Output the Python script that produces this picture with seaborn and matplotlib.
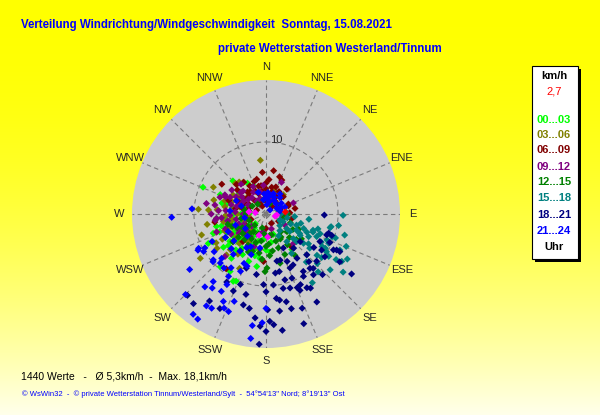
import numpy as np
import pandas as pd
import matplotlib
matplotlib.use('Agg')
import matplotlib.pyplot as plt
import seaborn as sns
from matplotlib.patches import Rectangle

# wind readings per 3-hour block: (direction in degrees, speed in km/h)
pts_00_03 = [(315, 6.5), (329, 5.0), (293, 9.5), (293, 6.9), (284, 6.3), (249, 6.9), (221, 9.7),
             (204, 10.2), (190, 7.4), (144, 6.1), (174, 5.3), (336, 4.3), (308, 4.7), (256, 7.1),
             (242, 8.3), (243, 9.0), (250, 7.8), (206, 10.4), (212, 9.4), (265, 6.9),
             (260, 4.5), (250, 3.8), (240, 4.2), (235, 5.5), (230, 3.0), (225, 4.8), (215, 5.8),
             (210, 3.5), (200, 4.4), (195, 6.0), (220, 6.5), (270, 3.5), (280, 4.8), (265, 5.8),
             (255, 5.2), (245, 6.0), (238, 2.5), (228, 2.0), (205, 2.8), (185, 3.5), (170, 4.0),
             (160, 3.0), (290, 3.2), (300, 4.0), (275, 2.2), (262, 2.9), (248, 5.0), (233, 6.3),
             (212, 4.6), (198, 5.2), (245, 3.2), (235, 4.0), (225, 5.5), (215, 4.0), (205, 4.8),
             (220, 2.5), (250, 4.6), (260, 5.4), (240, 5.0), (230, 6.8), (210, 6.5), (195, 3.8),
             (180, 5.0), (270, 4.5), (285, 5.6), (255, 6.4), (232, 7.5), (218, 7.8), (200, 7.0),
             (188, 6.2)]
pts_03_06 = [(354, 7.5), (21, 3.4), (320, 5.8), (324, 5.4), (297, 8.2), (274, 9.4), (274, 8.0),
             (252, 9.4), (236, 11.0), (235, 8.3), (280, 5.8), (300, 5.3), (42, 3.6), (206, 8.4),
             (224, 7.9), (288, 6.0), (270, 4.0), (260, 6.0), (250, 5.5), (245, 4.5), (240, 7.0),
             (230, 6.0), (255, 3.2), (265, 2.5), (285, 3.8), (295, 4.5), (310, 3.5), (228, 4.2),
             (215, 6.8), (205, 5.5), (190, 5.0), (275, 6.8), (250, 7.3), (262, 4.8), (238, 3.6),
             (220, 3.0), (248, 6.2), (258, 5.0), (268, 5.6), (242, 5.6), (232, 5.2), (222, 5.5),
             (212, 4.6), (278, 4.5), (290, 5.0), (305, 4.5), (225, 7.0), (240, 8.0), (260, 8.3),
             (285, 7.5), (315, 6.0)]
pts_06_09 = [(10, 6.1), (101, 3.6), (70, 3.3), (42, 3.2), (54, 2.1), (317, 3.3), (292, 3.9),
             (328, 2.0), (3, 1.7), (38, 1.3), (304, 7.4), (66, 3.4), (71, 2.1), (21, 1.6),
             (331, 1.7), (314, 3.4), (297, 3.3), (261, 7.2), (293, 1.4), (79, 4.1), (45, 3.4),
             (87, 3.3), (294, 4.2), (216, 9.4), (142, 5.8), (183, 6.6),
             (340, 3.0), (350, 4.0), (0, 3.5), (10, 2.5), (20, 4.0), (30, 2.8), (355, 2.2),
             (345, 5.0), (330, 4.5), (320, 2.5), (310, 5.2), (300, 2.8), (285, 3.5), (275, 2.6),
             (290, 5.5), (5, 4.8), (15, 3.2), (325, 3.8), (335, 1.2), (265, 3.0), (250, 2.2),
             (240, 3.2), (230, 4.0), (220, 5.0), (200, 3.0), (180, 2.0), (150, 1.5), (120, 2.0),
             (60, 1.8), (40, 4.5), (25, 5.2), (355, 5.8), (345, 4.0), (335, 3.5), (0, 4.3),
             (12, 3.8), (30, 3.6), (320, 4.0), (305, 3.8), (290, 2.5), (280, 4.3), (350, 3.2),
             (5, 2.8), (340, 4.8), (315, 5.8), (325, 5.4), (20, 5.5), (35, 2.2)]
pts_09_12 = [(26, 4.9), (68, 4.1), (280, 8.4), (274, 6.6), (263, 7.1), (295, 6.3), (250, 7.3),
             (224, 8.2), (305, 4.1), (319, 3.0), (268, 5.0), (138, 5.6), (355, 4.0), (293, 6.1),
             (339, 2.3), (274, 4.3), (297, 2.8), (15, 2.1), (265, 6.9),
             (285, 5.0), (290, 3.8), (300, 4.8), (310, 3.2), (315, 4.5), (325, 2.2), (330, 3.5),
             (270, 3.2), (260, 4.2), (255, 2.8), (245, 3.4), (235, 4.6), (280, 2.4), (305, 5.8),
             (345, 3.2), (0, 2.6), (20, 3.0), (40, 2.0), (265, 6.2), (240, 5.6), (230, 2.6),
             (215, 3.8), (200, 4.8), (190, 2.5), (160, 2.2), (120, 3.0), (100, 2.4), (295, 5.5),
             (285, 4.2), (275, 5.6), (290, 6.8), (300, 3.6), (310, 4.6), (320, 5.4), (260, 5.4),
             (250, 4.0), (280, 7.2), (270, 7.6), (250, 6.0), (240, 4.4), (230, 3.5), (335, 4.2)]
pts_12_15 = [(181, 8.0), (179, 7.5), (164, 7.1), (165, 3.0), (147, 3.8),
             (200, 3.0), (210, 4.0), (220, 3.5), (230, 5.0), (240, 3.8), (250, 2.5), (190, 5.5),
             (180, 4.5), (170, 3.0), (160, 5.0), (150, 4.0), (140, 3.2), (130, 5.5), (120, 4.3),
             (110, 3.6), (100, 2.6), (90, 3.0), (260, 3.5), (270, 2.8), (280, 3.0), (300, 2.2),
             (320, 1.8), (350, 2.0), (20, 1.5), (60, 2.2), (80, 1.8), (205, 5.8), (215, 6.2),
             (225, 2.2), (235, 3.0), (245, 4.4), (195, 2.0), (185, 6.3), (175, 5.8), (155, 6.2),
             (145, 7.0), (135, 4.6), (125, 6.0), (115, 5.0), (240, 6.5), (255, 5.5), (210, 5.0),
             (220, 4.6), (230, 4.2), (200, 4.2), (190, 3.8), (175, 4.2), (160, 4.0), (170, 5.2),
             (200, 5.5), (215, 3.0), (185, 2.8), (230, 6.0), (250, 5.0), (145, 5.2), (130, 3.8)]
pts_15_18 = [(91, 10.7), (101, 9.2), (99, 10.2), (114, 7.7), (111, 7.0), (115, 9.6), (116, 11.4),
             (119, 12.9), (122, 12.4), (123, 11.6), (122, 9.9), (128, 9.8), (134, 9.9), (128, 7.7),
             (128, 6.6), (120, 5.4), (118, 4.8), (112, 3.7), (116, 2.2), (125, 3.5), (132, 5.1),
             (146, 11.5), (147, 6.5), (135, 8.0), (102, 9.1), (109, 9.7), (109, 10.2), (113, 9.2),
             (110, 8.0), (109, 6.9), (114, 6.2), (111, 5.6), (110, 4.5), (126, 4.1), (114, 2.6),
             (113, 2.1), (118, 6.7), (122, 5.6), (120, 9.5), (129, 9.1), (140, 8.7), (132, 5.7),
             (143, 4.8), (120, 9.0), (100, 3.0), (95, 4.0), (105, 5.0), (90, 2.0), (130, 2.5),
             (140, 3.0), (150, 3.5), (125, 7.2), (117, 8.6), (106, 7.5), (97, 6.0), (85, 2.8),
             (105, 11.3), (112, 12.0), (124, 10.5), (138, 10.8), (131, 11.8), (127, 13.4)]
pts_18_21 = [(91, 8.1), (125, 14.5), (123, 12.2), (118, 10.6), (126, 10.1), (123, 9.2), (114, 9.7),
             (117, 8.4), (125, 8.1), (133, 9.6), (141, 9.7), (135, 8.0), (147, 9.5), (154, 10.9),
             (157, 11.1), (158, 9.6), (156, 8.2), (156, 7.2), (167, 8.2), (167, 10.6), (174, 9.9),
             (173, 11.8), (167, 12.5), (165, 13.6), (172, 13.6), (178, 14.9), (180, 16.3),
             (183, 15.6), (186, 14.5), (190, 13.3), (194, 13.0), (194, 11.5), (200, 10.4),
             (203, 11.6), (210, 10.9), (206, 14.6), (213, 14.4), (224, 15.7), (219, 16.0),
             (161, 16.1), (183, 18.1), (151, 11.7), (142, 10.7), (137, 11.5), (149, 12.0),
             (145, 7.5), (141, 6.1), (129, 6.1), (153, 5.3), (167, 6.7), (109, 8.9), (108, 9.6),
             (117, 11.5), (200, 8.0), (189, 8.5), (182, 9.8), (107, 9.1), (117, 11.0), (138, 8.9),
             (139, 10.0), (150, 14.1), (159, 14.0), (172, 16.3), (176, 15.4), (171, 12.1),
             (162, 10.8), (156, 11.6), (149, 10.1), (164, 9.5), (171, 8.3), (152, 8.0), (163, 6.7),
             (180, 10.8), (179, 13.3)]
pts_21_24 = [(268, 13.1), (274, 10.3), (234, 13.1), (225, 15.8), (216, 17.2), (213, 17.4),
             (213, 15.2), (210, 15.1), (218, 11.9), (216, 12.7), (210, 12.4), (206, 13.5),
             (204, 14.3), (209, 11.2), (211, 10.1), (213, 8.9), (218, 9.5), (223, 9.3), (229, 9.7),
             (225, 8.7), (200, 12.9), (201, 14.5), (187, 17.4), (187, 15.6), (182, 15.1),
             (180, 13.1), (204, 7.5), (200, 7.7), (204, 8.7), (219, 7.2), (239, 10.1), (243, 10.5),
             (234, 8.9), (243, 8.4), (242, 10.7), (241, 9.7), (220, 13.2), (228, 9.9),
             (5, 1.3), (45, 0.8), (62, 1.7), (78, 2.0), (288, 3.6), (294, 4.5), (275, 5.0),
             (10, 2.5), (20, 3.0), (350, 2.0), (30, 2.2), (40, 3.0), (55, 2.6), (70, 2.8), (0, 2.2),
             (340, 3.2), (15, 1.8), (210, 5.4), (220, 4.0), (230, 5.8), (240, 6.5), (250, 4.5),
             (200, 6.0), (190, 4.8), (260, 3.0), (235, 3.5), (25, 2.6), (35, 3.4), (5, 3.0),
             (355, 2.8), (45, 2.0), (65, 2.2), (215, 6.3), (225, 6.8), (245, 5.8), (205, 5.0)]
pts_recent = [(277, 2.4), (103, 1.3), (198, 3.1), (95, 1.5), (176, 3.2), (277, 1.5)]
pts_current = [(84, 2.7)]

periods = ['00...03', '03...06', '06...09', '09...12', '12...15', '15...18', '18...21', '21...24']
period_colors = ['#00FF00', '#808000', '#800000', '#800080', '#008000', '#008080', '#000080', '#0000FF']
compass = ['N', 'NNE', 'NE', 'ENE', 'E', 'ESE', 'SE', 'SSE',
           'S', 'SSW', 'SW', 'WSW', 'W', 'WNW', 'NW', 'NNW']

all_groups = [pts_00_03, pts_03_06, pts_06_09, pts_09_12, pts_12_15, pts_15_18, pts_18_21,
              pts_21_24, pts_recent, pts_current]
group_names = periods + ['recent', 'current']
palette = dict(zip(group_names, period_colors + ['#FF00FF', '#FF0000']))

rows = []
for name, pts in zip(group_names, all_groups):
    for d, v in pts:
        rows.append({'theta': np.deg2rad(d), 'speed': v, 'period': name})
df = pd.DataFrame(rows)

sns.set_style('white')
plt.rcParams['font.family'] = ['Liberation Sans', 'DejaVu Sans']

fig = plt.figure(figsize=(6, 4.15), dpi=100)

# yellow gradient background
bg = fig.add_axes([0, 0, 1, 1], zorder=-10)
t = np.linspace(0, 1, 256)[:, None]
grad = np.ones((256, 2, 3))
grad[:, :, 2] = 0.92 * t ** 2
bg.imshow(grad, aspect='auto', extent=[0, 1, 0, 1], origin='upper')
bg.axis('off')

ax = fig.add_axes([0.22, 0.1614, 0.4467, 0.6458], projection='polar')
ax.set_theta_zero_location('N')
ax.set_theta_direction(-1)
ax.set_facecolor('#CDCDCD')

sns.scatterplot(data=df, x='theta', y='speed', hue='period', hue_order=group_names,
                palette=palette, marker='D', s=13, linewidth=0, legend=False, ax=ax, zorder=3)

ax.set_ylim(0, 18.6)
ax.set_xticks(np.deg2rad(np.arange(0, 360, 22.5)))
ax.set_xticklabels([])
ax.set_yticks([10])
ax.set_yticklabels([])
ax.grid(True, color='#7A7A7A', linestyle=(0, (4, 3)), linewidth=0.8)
ax.spines['polar'].set_visible(False)
ax.set_xlabel('')
ax.set_ylabel('')

for i, lab in enumerate(compass):
    ax.text(np.deg2rad(i * 22.5), 20.4, lab, ha='center', va='center', fontsize=8, clip_on=False)
ax.text(np.deg2rad(7.7), 10.4, '10', ha='center', va='center', fontsize=8, zorder=4)

# titles
fig.text(0.035, 0.9398, 'Verteilung Windrichtung/Windgeschwindigkeit  Sonntag, 15.08.2021',
         color='#0000FF', fontsize=8.3, fontweight='bold', ha='left', va='center')
fig.text(0.3633, 0.8819, 'private Wetterstation Westerland/Tinnum',
         color='#0000FF', fontsize=8.3, fontweight='bold', ha='left', va='center')

# footer
fig.text(0.035, 0.0916, '1440 Werte   -   Ø 5,3km/h  -  Max. 18,1km/h',
         color='black', fontsize=7.5, ha='left', va='center')
fig.text(0.0367, 0.0506,
         "© WsWin32  -  © private Wetterstation Tinnum/Westerland/Sylt  -  54°54'13'' Nord; 8°19'13'' Ost",
         color='#0000FF', fontsize=5.5, ha='left', va='center')

# legend box with shadow
W, H = 600, 415
fig.patches.append(Rectangle(((532 + 3) / W, (H - 259 - 3) / H), 46 / W, 193 / H,
                             transform=fig.transFigure, facecolor='black', edgecolor='none', zorder=1))
fig.patches.append(Rectangle((532 / W, (H - 259) / H), 46 / W, 193 / H,
                             transform=fig.transFigure, facecolor='white', edgecolor='black',
                             linewidth=0.8, zorder=2))
xc = 554 / W
fig.text(xc, 1 - 76 / H, 'km/h', color='black', fontsize=8, fontweight='bold', ha='center', va='center')
fig.text(xc, 1 - 92 / H, '2,7', color='#FF0000', fontsize=8, ha='center', va='center')
legend_y = [120, 135, 150.3, 166.7, 182.3, 197.7, 215, 230.7]
for lab, col, yy in zip(periods, period_colors, legend_y):
    fig.text(xc, 1 - yy / H, lab, color=col, fontsize=8, fontweight='bold', ha='center', va='center')
fig.text(xc, 1 - 246.7 / H, 'Uhr', color='black', fontsize=8, fontweight='bold', ha='center', va='center')

fig.savefig('out.png', dpi=100)
